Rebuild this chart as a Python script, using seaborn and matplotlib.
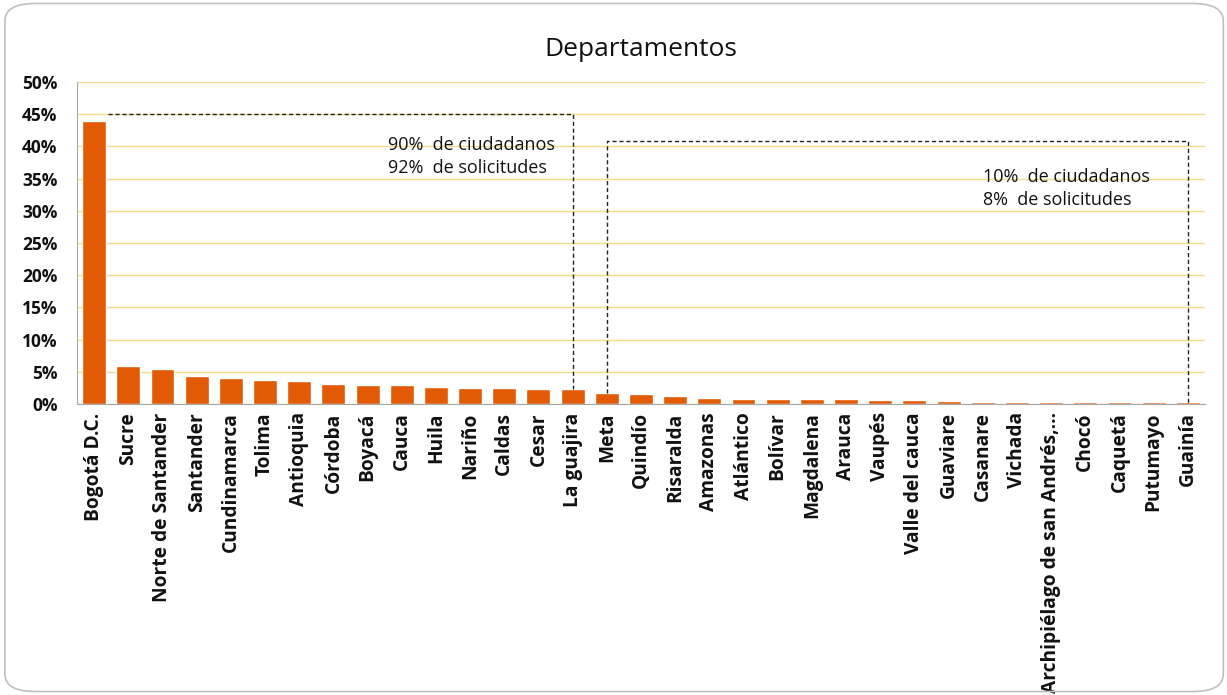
import numpy as np
import matplotlib as mpl
import matplotlib.pyplot as plt
import seaborn as sns
import pandas as pd
from matplotlib.patches import FancyBboxPatch
from matplotlib.ticker import PercentFormatter

departamentos = ['Bogotá D.C.', 'Sucre', 'Norte de Santander', 'Santander', 'Cundinamarca',
                 'Tolima', 'Antioquia', 'Córdoba', 'Boyacá', 'Cauca', 'Huila', 'Nariño',
                 'Caldas', 'Cesar', 'La guajira', 'Meta', 'Quindío', 'Risaralda', 'Amazonas',
                 'Atlántico', 'Bolívar', 'Magdalena', 'Arauca', 'Vaupés', 'Valle del cauca',
                 'Guaviare', 'Casanare', 'Vichada', 'Archipiélago de san Andrés,...', 'Chocó',
                 'Caquetá', 'Putumayo', 'Guainía']
porcentaje = [43.9, 5.9, 5.4, 4.4, 4.0, 3.7, 3.5, 3.1, 2.9, 2.9, 2.7, 2.5, 2.5, 2.3, 2.3,
              1.7, 1.6, 1.3, 0.9, 0.8, 0.8, 0.8, 0.7, 0.6, 0.6, 0.5, 0.3, 0.3, 0.3, 0.3,
              0.3, 0.3, 0.3]
nota_grupo1 = '90%  de ciudadanos\n92%  de solicitudes'
nota_grupo2 = '10%  de ciudadanos\n8%  de solicitudes'

df = pd.DataFrame({'dep': departamentos, 'pct': porcentaje})

sns.set_style('white')
plt.rcParams['font.family'] = ['Open Sans', 'DejaVu Sans']

fig = plt.figure(figsize=(12.27, 6.95), dpi=100)
ax = fig.add_axes([0.0628, 0.4187, 0.9192, 0.4633])

sns.barplot(data=df, x='dep', y='pct', color='#E35A05', saturation=1, width=0.7, ax=ax)

ax.set_ylim(0, 50)
ax.set_xlim(-0.5, len(departamentos) - 0.5)
ax.set_yticks(np.arange(0, 51, 5))
ax.yaxis.set_major_formatter(PercentFormatter(decimals=0))
ax.grid(axis='y', color='#F2DC8C', linewidth=1)
ax.set_axisbelow(True)
for s in ['top', 'right']:
    ax.spines[s].set_visible(False)
ax.spines['left'].set_color('#A6A6A6')
ax.spines['bottom'].set_color('#A6A6A6')
ax.set_xlabel('')
ax.set_ylabel('')
ax.tick_params(axis='y', labelsize=12.5, length=0, pad=14, labelcolor='#111111')
ax.tick_params(axis='x', labelsize=13.8, length=0, pad=6, labelcolor='#111111')
for t in ax.get_yticklabels():
    t.set_fontweight('bold')
plt.setp(ax.get_xticklabels(), rotation=90, fontweight='bold')

ax.set_title('Departamentos', fontsize=19, pad=19, color='#111111')

# dashed brackets around the two groups
i_guajira = departamentos.index('La guajira')
i_meta = departamentos.index('Meta')
i_last = len(departamentos) - 1
dash = dict(color='#222222', linestyle=(0, (3, 2)), linewidth=1)
ax.plot([0.42, i_guajira, i_guajira], [45, 45, porcentaje[i_guajira]], **dash)
ax.plot([i_meta, i_meta, i_last, i_last], [porcentaje[i_meta], 40.8, 40.8, 0], **dash)

ax.text(8.6, 41.6, nota_grupo1, fontsize=13, va='top', ha='left', linespacing=1.35, color='#111111')
ax.text(26.0, 36.6, nota_grupo2, fontsize=13, va='top', ha='left', linespacing=1.35, color='#111111')

border = FancyBboxPatch((0.004, 0.005), 0.993, 0.99, boxstyle='round,pad=0,rounding_size=0.025',
                        transform=fig.transFigure, fill=False, edgecolor='#BFBFBF', linewidth=1.2)
fig.patches.append(border)

fig.savefig('out.png', dpi=100)
